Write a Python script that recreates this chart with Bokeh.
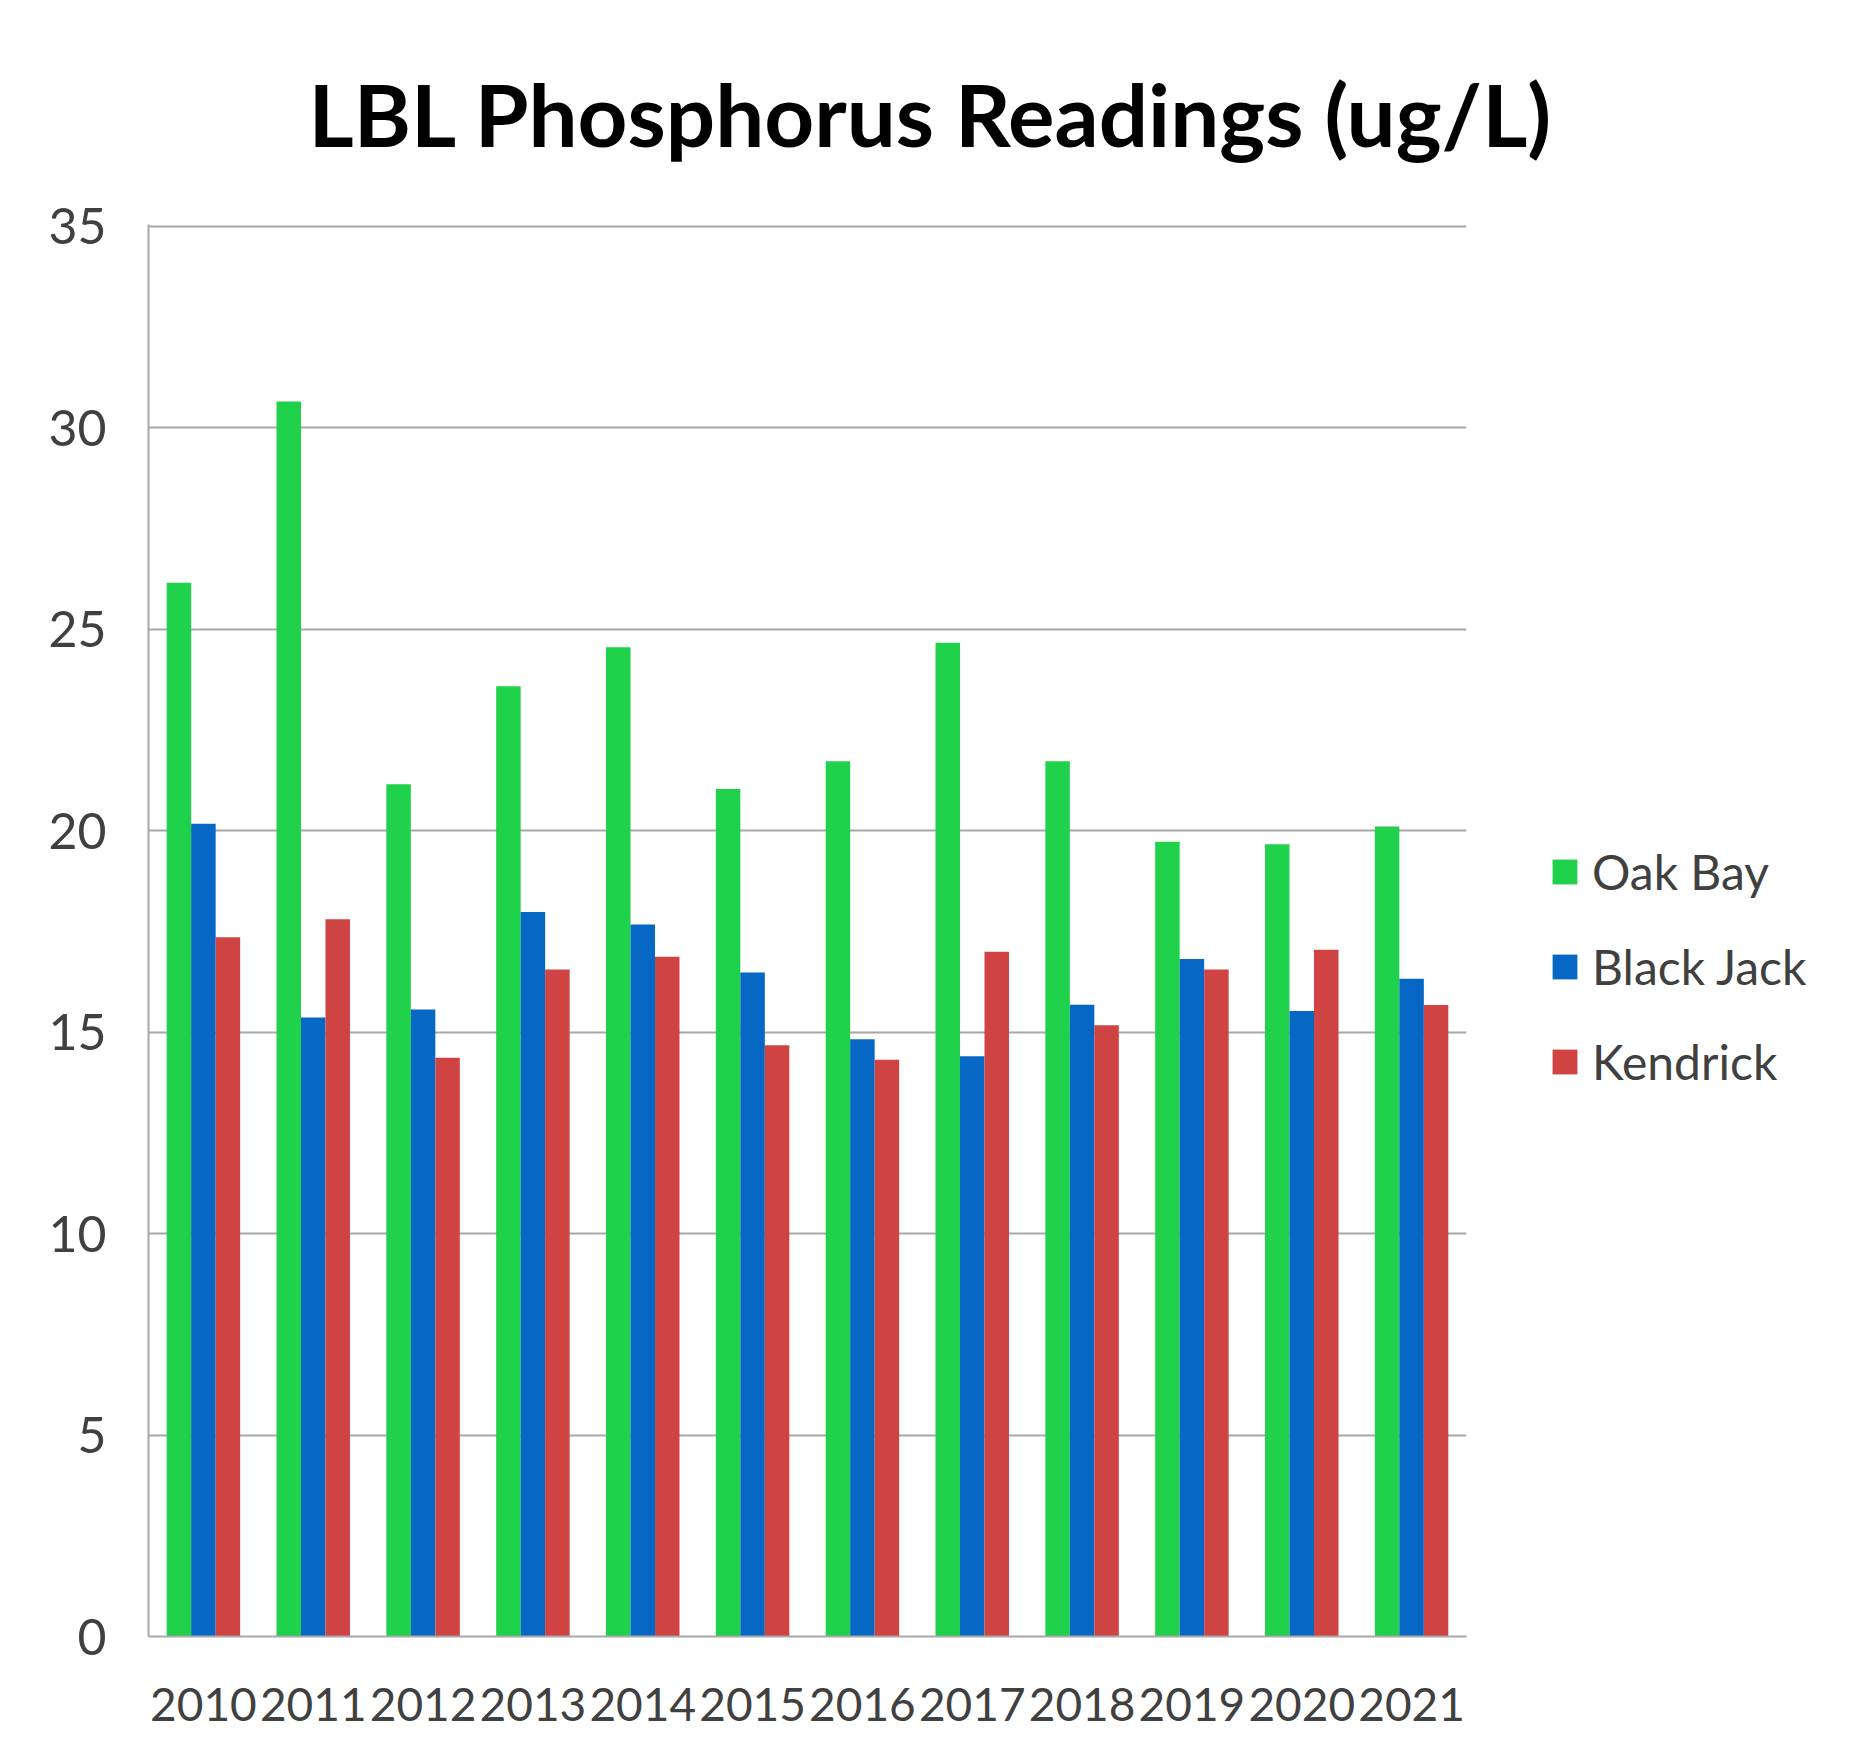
from bokeh.plotting import figure
from bokeh.models import (FactorRange, Range1d, SingleIntervalTicker, Legend,
                          LegendItem, Title, ColumnDataSource)
from bokeh.transform import dodge
from bokeh.embed import file_html
from bokeh.resources import INLINE

years = ["2010", "2011", "2012", "2013", "2014", "2015",
         "2016", "2017", "2018", "2019", "2020", "2021"]
oak_bay = [26.15, 30.65, 21.15, 23.58, 24.55, 21.03, 21.72, 24.66, 21.72, 19.72, 19.66, 20.1]
black_jack = [20.17, 15.36, 15.56, 17.98, 17.67, 16.48, 14.82, 14.4, 15.68, 16.81, 15.52, 16.32]
kendrick = [17.35, 17.8, 14.36, 16.55, 16.87, 14.67, 14.31, 16.99, 15.17, 16.55, 17.04, 15.67]
series_names = ["Oak Bay", "Black Jack", "Kendrick"]
title_text = "LBL Phosphorus Readings (ug/L)"

GREEN = "#1fd14b"
BLUE = "#0668c4"
RED = "#d04343"
GRID = "#a8a8a8"
TXT = "#404040"
FONT = "Lato"

src = ColumnDataSource(dict(year=years, oak=oak_bay, bj=black_jack, ken=kendrick))

p = figure(x_range=FactorRange(factors=years, range_padding=0),
           y_range=Range1d(0, 35.04),
           frame_width=1318, frame_height=1412,
           min_border_left=148, min_border_right=0,
           min_border_top=200, min_border_bottom=111,
           output_backend="svg", toolbar_location=None)

bw = 0.223
r1 = p.vbar(x=dodge("year", -bw, range=p.x_range), top="oak", width=bw, source=src,
            fill_color=GREEN, line_color=None)
r2 = p.vbar(x=dodge("year", 0, range=p.x_range), top="bj", width=bw, source=src,
            fill_color=BLUE, line_color=None)
r3 = p.vbar(x=dodge("year", bw, range=p.x_range), top="ken", width=bw, source=src,
            fill_color=RED, line_color=None)

p.outline_line_color = None
p.background_fill_color = "white"
p.border_fill_color = "white"

p.xgrid.grid_line_color = None
p.ygrid.grid_line_color = GRID
p.ygrid.grid_line_width = 2
p.yaxis.ticker = SingleIntervalTicker(interval=5)
p.ygrid.ticker = SingleIntervalTicker(interval=5)

for ax in (p.xaxis[0], p.yaxis[0]):
    ax.axis_line_color = GRID
    ax.axis_line_width = 2
    ax.major_tick_line_color = None
    ax.minor_tick_line_color = None
    ax.major_tick_out = 0
    ax.major_tick_in = 0
    ax.major_label_text_font = FONT
    ax.major_label_text_color = TXT

p.xaxis.major_label_text_font_size = "46px"
p.yaxis.major_label_text_font_size = "50px"
p.xaxis.major_label_standoff = 51
p.yaxis.major_label_standoff = 38

legend = Legend(items=[LegendItem(label=series_names[0], renderers=[r1]),
                       LegendItem(label=series_names[1], renderers=[r2]),
                       LegendItem(label=series_names[2], renderers=[r3])],
                location=(83, 546),
                glyph_width=31, glyph_height=31,
                label_text_font=FONT, label_text_font_size="48px",
                label_text_color=TXT, label_standoff=12,
                spacing=38, padding=0, margin=0,
                border_line_color=None, background_fill_alpha=0)
p.add_layout(legend, "right")

p.title = Title(text=title_text, align="left", offset=160, standoff=117,
                text_font=FONT, text_font_size="87px", text_font_style="bold",
                text_color="black")

open("out.html", "w").write(file_html(p, INLINE))
